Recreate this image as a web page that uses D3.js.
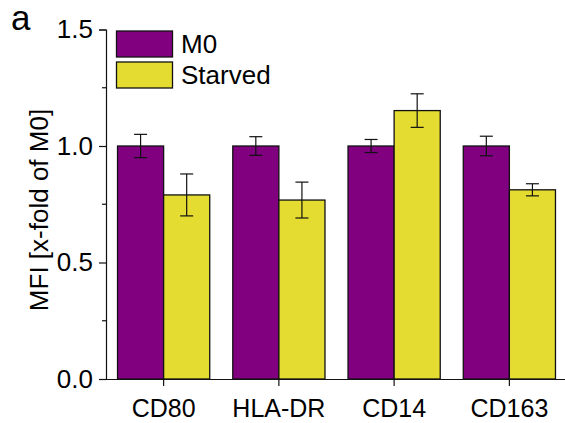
<!DOCTYPE html>
<html>
<head>
<meta charset="utf-8">
<script src="https://cdn.jsdelivr.net/npm/d3@7"></script>
<style>
  body { margin: 0; background: #fff; }
  svg text { font-family: Arial, "Liberation Sans", sans-serif; }
</style>
</head>
<body>
<svg id="chart" width="565" height="423"></svg>
<script>
// values
var categories = ["CD80", "HLA-DR", "CD14", "CD163"];
var seriesNames = ["M0", "Starved"];
var m0Values = [1.0, 1.0, 1.0, 1.0];
var m0Errors = [0.05, 0.04, 0.028, 0.042];
var starvedValues = [0.79, 0.768, 1.152, 0.812];
var starvedErrors = [0.09, 0.077, 0.072, 0.026];
var yTicks = [0, 0.5, 1.0, 1.5];
var colors = ["#800080", "#e5dc32"];

var svg = d3.select("#chart");

var y = d3.scaleLinear().domain([0, 1.5]).range([379, 29.5]);
var x = d3.scaleBand().domain(categories).range([106, 567])
    .paddingInner(0.2).paddingOuter(0.1);
var xSub = d3.scaleBand().domain(seriesNames).range([0, x.bandwidth()]);

var data = [];
categories.forEach(function(c, i) {
  data.push({cat: c, s: "M0", v: m0Values[i], e: m0Errors[i]});
  data.push({cat: c, s: "Starved", v: starvedValues[i], e: starvedErrors[i]});
});

// bars
svg.append("g").selectAll("rect")
  .data(data)
  .enter().append("rect")
  .attr("x", d => x(d.cat) + xSub(d.s))
  .attr("y", d => y(d.v))
  .attr("width", xSub.bandwidth())
  .attr("height", d => y(0) - y(d.v))
  .attr("fill", d => colors[seriesNames.indexOf(d.s)])
  .attr("stroke", "#111")
  .attr("stroke-width", 1.3);

// error bars
var eg = svg.append("g").attr("stroke", "#111").attr("stroke-width", 1.2);
data.forEach(function(d) {
  var cx = x(d.cat) + xSub(d.s) + xSub.bandwidth() / 2;
  eg.append("line").attr("x1", cx).attr("x2", cx)
    .attr("y1", y(d.v + d.e)).attr("y2", y(d.v - d.e));
  [d.v + d.e, d.v - d.e].forEach(function(v) {
    eg.append("line").attr("x1", cx - 6.5).attr("x2", cx + 6.5)
      .attr("y1", y(v)).attr("y2", y(v));
  });
});

// y axis
var yAxis = d3.axisLeft(y).tickValues(yTicks).tickFormat(d3.format(".1f"))
  .tickSize(7).tickPadding(6);
var ya = svg.append("g").attr("transform", "translate(106,0)").call(yAxis);
ya.attr("font-family", null).attr("font-size", null);
ya.select(".domain").attr("stroke", "#111").attr("stroke-width", 1.2);
ya.selectAll(".tick line").attr("stroke", "#111").attr("stroke-width", 1.2);
ya.selectAll("text").style("font-size", "26px").attr("fill", "#000");
// minor ticks
ya.selectAll(".minor").data([0.25, 0.75, 1.25]).enter().append("line")
  .attr("class", "minor")
  .attr("x1", -4).attr("x2", 0)
  .attr("y1", d => y(d)).attr("y2", d => y(d))
  .attr("stroke", "#111").attr("stroke-width", 1.2);

// x axis
var xAxis = d3.axisBottom(x).tickSize(7).tickPadding(13).tickSizeOuter(0);
var xa = svg.append("g").attr("transform", "translate(0,379)").call(xAxis);
xa.attr("font-family", null).attr("font-size", null);
xa.select(".domain").attr("stroke", "#111").attr("stroke-width", 1.2);
xa.selectAll(".tick line").attr("stroke", "#111").attr("stroke-width", 1.2);
xa.selectAll("text").style("font-size", "25px").attr("fill", "#000");

// y label
svg.append("text")
  .attr("transform", "translate(48,210) rotate(-90)")
  .attr("text-anchor", "middle")
  .style("font-size", "26px")
  .text("MFI [x-fold of M0]");

// panel letter
svg.append("text").attr("x", 11).attr("y", 30)
  .style("font-size", "35px").text("a");

// legend
var lg = svg.append("g");
seriesNames.forEach(function(s, i) {
  lg.append("rect").attr("x", 116.5).attr("y", 31 + i * 31)
    .attr("width", 56).attr("height", 26)
    .attr("fill", colors[i]).attr("stroke", "#111").attr("stroke-width", 1.3);
  lg.append("text").attr("x", 181).attr("y", 53 + i * 31)
    .style("font-size", "26px").text(s);
});
</script>
</body>
</html>
